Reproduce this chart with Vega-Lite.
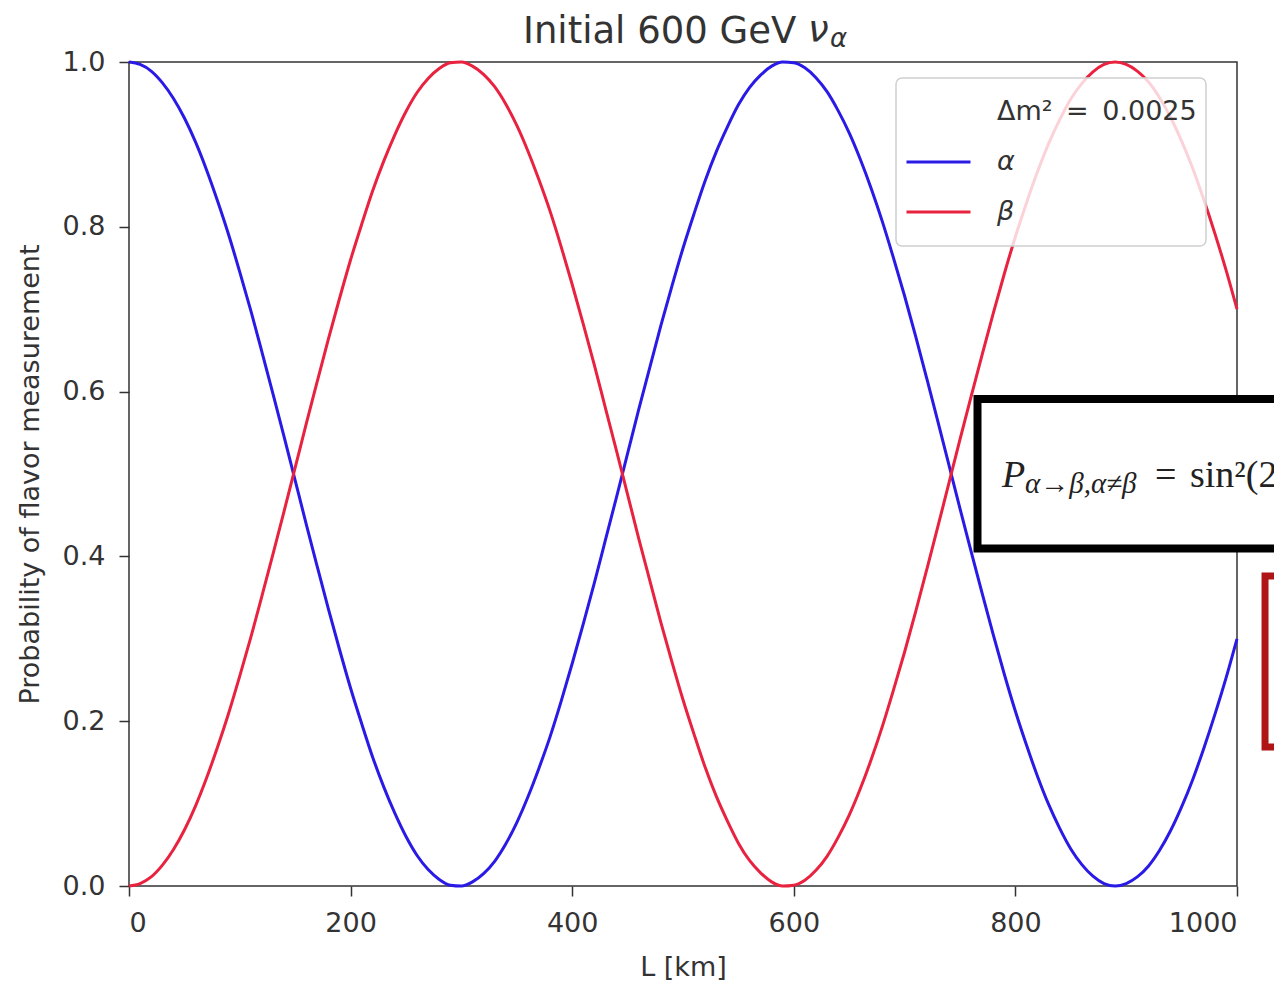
{
  "$schema": "https://vega.github.io/schema/vega-lite/v6.json",
  "width": 1108,
  "height": 824,
  "autosize": {"type": "none"},
  "padding": {"left": 129, "top": 62, "right": 37, "bottom": 96},
  "background": "white",
  "title": {"text": "Initial 600 GeV", "anchor": "start", "frame": "group", "dx": 394, "offset": -68, "baseline": "alphabetic", "fontSize": 37, "font": "DejaVu Sans", "fontWeight": "normal", "color": "#333"},
  "config": {
    "view": {"stroke": "#333", "strokeWidth": 1.5},
    "axis": {"labelFont": "DejaVu Sans", "titleFont": "DejaVu Sans", "labelFontSize": 27, "titleFontSize": 27, "titleFontWeight": "normal", "labelColor": "#333", "titleColor": "#333", "tickColor": "#333", "tickWidth": 1.5, "tickSize": 10, "grid": false, "domain": false, "labelPadding": 14, "titlePadding": 18},
    "text": {"font": "DejaVu Sans"}
  },
  "layer": [
    {
      "data": {"values": [
        {"L":0,"alpha":1.000,"beta":0.000},{"L":10,"alpha":0.997,"beta":0.003},{"L":20,"alpha":0.989,"beta":0.011},{"L":30,"alpha":0.975,"beta":0.025},{"L":40,"alpha":0.956,"beta":0.044},{"L":50,"alpha":0.932,"beta":0.068},{"L":60,"alpha":0.903,"beta":0.097},{"L":70,"alpha":0.869,"beta":0.131},{"L":80,"alpha":0.831,"beta":0.169},{"L":90,"alpha":0.790,"beta":0.210},
        {"L":100,"alpha":0.745,"beta":0.255},{"L":110,"alpha":0.698,"beta":0.302},{"L":120,"alpha":0.648,"beta":0.352},{"L":130,"alpha":0.597,"beta":0.403},{"L":140,"alpha":0.545,"beta":0.455},{"L":150,"alpha":0.492,"beta":0.508},{"L":160,"alpha":0.439,"beta":0.561},{"L":170,"alpha":0.387,"beta":0.613},{"L":180,"alpha":0.336,"beta":0.664},{"L":190,"alpha":0.287,"beta":0.713},
        {"L":200,"alpha":0.240,"beta":0.760},{"L":210,"alpha":0.197,"beta":0.803},{"L":220,"alpha":0.156,"beta":0.844},{"L":230,"alpha":0.120,"beta":0.880},{"L":240,"alpha":0.088,"beta":0.912},{"L":250,"alpha":0.060,"beta":0.940},{"L":260,"alpha":0.037,"beta":0.963},{"L":270,"alpha":0.020,"beta":0.980},{"L":280,"alpha":0.008,"beta":0.992},{"L":290,"alpha":0.001,"beta":0.999},
        {"L":300,"alpha":0.000,"beta":1.000},{"L":310,"alpha":0.005,"beta":0.995},{"L":320,"alpha":0.015,"beta":0.985},{"L":330,"alpha":0.030,"beta":0.970},{"L":340,"alpha":0.051,"beta":0.949},{"L":350,"alpha":0.077,"beta":0.923},{"L":360,"alpha":0.108,"beta":0.892},{"L":370,"alpha":0.143,"beta":0.857},{"L":380,"alpha":0.181,"beta":0.819},{"L":390,"alpha":0.224,"beta":0.776},
        {"L":400,"alpha":0.270,"beta":0.730},{"L":410,"alpha":0.318,"beta":0.682},{"L":420,"alpha":0.368,"beta":0.632},{"L":430,"alpha":0.420,"beta":0.580},{"L":440,"alpha":0.472,"beta":0.528},{"L":450,"alpha":0.525,"beta":0.475},{"L":460,"alpha":0.578,"beta":0.422},{"L":470,"alpha":0.629,"beta":0.371},{"L":480,"alpha":0.680,"beta":0.320},{"L":490,"alpha":0.728,"beta":0.272},
        {"L":500,"alpha":0.774,"beta":0.226},{"L":510,"alpha":0.816,"beta":0.184},{"L":520,"alpha":0.856,"beta":0.144},{"L":530,"alpha":0.891,"beta":0.109},{"L":540,"alpha":0.921,"beta":0.079},{"L":550,"alpha":0.948,"beta":0.052},{"L":560,"alpha":0.969,"beta":0.031},{"L":570,"alpha":0.984,"beta":0.016},{"L":580,"alpha":0.995,"beta":0.005},{"L":590,"alpha":1.000,"beta":0.000},
        {"L":600,"alpha":0.999,"beta":0.001},{"L":610,"alpha":0.993,"beta":0.007},{"L":620,"alpha":0.981,"beta":0.019},{"L":630,"alpha":0.964,"beta":0.036},{"L":640,"alpha":0.941,"beta":0.059},{"L":650,"alpha":0.914,"beta":0.086},{"L":660,"alpha":0.882,"beta":0.118},{"L":670,"alpha":0.846,"beta":0.154},{"L":680,"alpha":0.806,"beta":0.194},{"L":690,"alpha":0.762,"beta":0.238},
        {"L":700,"alpha":0.716,"beta":0.284},{"L":710,"alpha":0.667,"beta":0.333},{"L":720,"alpha":0.616,"beta":0.384},{"L":730,"alpha":0.564,"beta":0.436},{"L":740,"alpha":0.511,"beta":0.489},{"L":750,"alpha":0.458,"beta":0.542},{"L":760,"alpha":0.406,"beta":0.594},{"L":770,"alpha":0.355,"beta":0.645},{"L":780,"alpha":0.305,"beta":0.695},{"L":790,"alpha":0.257,"beta":0.743},
        {"L":800,"alpha":0.212,"beta":0.788},{"L":810,"alpha":0.171,"beta":0.829},{"L":820,"alpha":0.133,"beta":0.867},{"L":830,"alpha":0.099,"beta":0.901},{"L":840,"alpha":0.070,"beta":0.930},{"L":850,"alpha":0.045,"beta":0.955},{"L":860,"alpha":0.026,"beta":0.974},{"L":870,"alpha":0.012,"beta":0.988},{"L":880,"alpha":0.003,"beta":0.997},{"L":890,"alpha":0.000,"beta":1.000},
        {"L":900,"alpha":0.003,"beta":0.997},{"L":910,"alpha":0.011,"beta":0.989},{"L":920,"alpha":0.024,"beta":0.976},{"L":930,"alpha":0.043,"beta":0.957},{"L":940,"alpha":0.067,"beta":0.933},{"L":950,"alpha":0.096,"beta":0.904},{"L":960,"alpha":0.129,"beta":0.871},{"L":970,"alpha":0.167,"beta":0.833},{"L":980,"alpha":0.208,"beta":0.792},{"L":990,"alpha":0.252,"beta":0.748},
        {"L":1000,"alpha":0.300,"beta":0.700}
      ]},
      "transform": [{"fold": ["alpha", "beta"], "as": ["flavor", "P"]}],
      "mark": {"type": "line", "strokeWidth": 3, "interpolate": "monotone"},
      "encoding": {
        "x": {"field": "L", "type": "quantitative", "title": "L [km]", "scale": {"domain": [0, 1000], "nice": false, "zero": false}, "axis": {"values": [0, 200, 400, 600, 800, 1000], "format": "d"}},
        "y": {"field": "P", "type": "quantitative", "title": "Probability of flavor measurement", "scale": {"domain": [0, 1], "nice": false}, "axis": {"values": [0, 0.2, 0.4, 0.6, 0.8, 1.0], "format": ".1f"}},
        "color": {"field": "flavor", "type": "nominal",
          "scale": {"domain": ["dm", "alpha", "beta"], "range": ["rgba(0,0,0,0)", "#2a1ae6", "#e8223f"]},
          "legend": {"title": null, "orient": "none", "legendX": 767, "legendY": 16, "padding": 9,
            "symbolType": "stroke", "symbolSize": 4096, "symbolStrokeWidth": 3, "clipHeight": 50, "rowPadding": 0,
            "labelFont": "DejaVu Sans", "labelFontSize": 27, "labelColor": "#333", "labelOffset": 25, "labelLimit": 400,
            "labelExpr": "datum.value == 'dm' ? 'Δm²\u2002=\u20020.0025' : datum.value == 'alpha' ? 'α' : 'β'",
            "fillColor": "rgba(255,255,255,0.8)", "strokeColor": "#d0d0d0", "cornerRadius": 6,
            "encode": {
              "labels": {"update": {"fontStyle": {"signal": "datum.value == 'dm' ? 'normal' : 'italic'"}}},
              "legend": {"update": {"strokeWidth": {"value": 1.5}}}
            }}}
      }
    },
    {
      "data": {"values": [{"L": 765.8, "L2": 1100, "P": 0.4096, "P2": 0.591}]},
      "mark": {"type": "rect", "fill": "white", "stroke": "black", "strokeWidth": 8},
      "encoding": {
        "x": {"field": "L", "type": "quantitative", "title": "L [km]", "scale": {"domain": [0, 1000]}},
        "x2": {"field": "L2"},
        "y": {"field": "P", "type": "quantitative", "title": "Probability of flavor measurement", "scale": {"domain": [0, 1]}},
        "y2": {"field": "P2"}
      }
    },
    {
      "data": {"values": [{"L": 1025.3, "L2": 1100, "P": 0.1687, "P2": 0.3762}]},
      "mark": {"type": "rect", "fill": "white", "stroke": "#b01515", "strokeWidth": 7},
      "encoding": {
        "x": {"field": "L", "type": "quantitative", "title": "L [km]", "scale": {"domain": [0, 1000]}},
        "x2": {"field": "L2"},
        "y": {"field": "P", "type": "quantitative", "title": "Probability of flavor measurement", "scale": {"domain": [0, 1]}},
        "y2": {"field": "P2"}
      }
    },
    {
      "data": {"values": [{"L": 787.9, "P": 0.4842, "t": "P"}]},
      "mark": {"type": "text", "font": "Liberation Serif", "fontStyle": "italic", "fontSize": 38, "align": "left", "baseline": "alphabetic", "color": "#222"},
      "encoding": {
        "x": {"field": "L", "type": "quantitative", "title": "L [km]", "scale": {"domain": [0, 1000]}},
        "y": {"field": "P", "type": "quantitative", "title": "Probability of flavor measurement", "scale": {"domain": [0, 1]}},
        "text": {"field": "t"}
      }
    },
    {
      "data": {"values": [{"L": 808.7, "P": 0.4769, "t": "α→β,α≠β"}]},
      "mark": {"type": "text", "font": "Liberation Serif", "fontStyle": "italic", "fontSize": 29, "align": "left", "baseline": "alphabetic", "color": "#222"},
      "encoding": {
        "x": {"field": "L", "type": "quantitative", "title": "L [km]", "scale": {"domain": [0, 1000]}},
        "y": {"field": "P", "type": "quantitative", "title": "Probability of flavor measurement", "scale": {"domain": [0, 1]}},
        "text": {"field": "t"}
      }
    },
    {
      "data": {"values": [{"L": 926.0, "P": 0.4842, "t": "="}, {"L": 957.6, "P": 0.4842, "t": "sin²(2"}]},
      "mark": {"type": "text", "font": "Liberation Serif", "fontSize": 38, "align": "left", "baseline": "alphabetic", "color": "#222"},
      "encoding": {
        "x": {"field": "L", "type": "quantitative", "title": "L [km]", "scale": {"domain": [0, 1000]}},
        "y": {"field": "P", "type": "quantitative", "title": "Probability of flavor measurement", "scale": {"domain": [0, 1]}},
        "text": {"field": "t"}
      }
    },
    {
      "data": {"values": [{"L": 612.8, "P": 1.0243, "t": "ν"}]},
      "mark": {"type": "text", "fontStyle": "italic", "fontSize": 37, "align": "left", "baseline": "alphabetic", "color": "#333"},
      "encoding": {
        "x": {"field": "L", "type": "quantitative", "title": "L [km]", "scale": {"domain": [0, 1000]}},
        "y": {"field": "P", "type": "quantitative", "title": "Probability of flavor measurement", "scale": {"domain": [0, 1]}},
        "text": {"field": "t"}
      }
    },
    {
      "data": {"values": [{"L": 632.7, "P": 1.0182, "t": "α"}]},
      "mark": {"type": "text", "fontStyle": "italic", "fontSize": 26, "align": "left", "baseline": "alphabetic", "color": "#333"},
      "encoding": {
        "x": {"field": "L", "type": "quantitative", "title": "L [km]", "scale": {"domain": [0, 1000]}},
        "y": {"field": "P", "type": "quantitative", "title": "Probability of flavor measurement", "scale": {"domain": [0, 1]}},
        "text": {"field": "t"}
      }
    }
  ]
}
